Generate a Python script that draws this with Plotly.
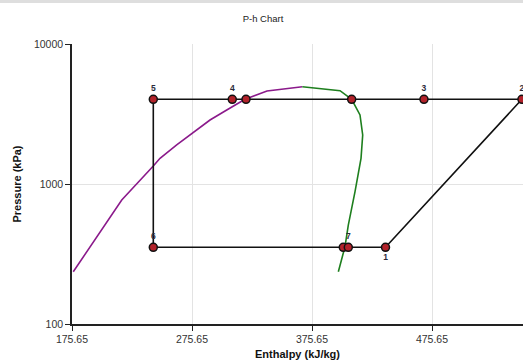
import plotly.graph_objects as go

# Saturated liquid line (purple)
liq_h = [176.7, 217.1, 243.4, 249.0, 262.9, 290.65, 304.6, 319.8, 338.15, 367.6]
liq_p = [236, 769, 1345, 1526, 1901, 2865, 3380, 4027, 4616, 4955]

# Saturated vapour line (green)
vap_h = [367.6, 399.0, 408.7, 415.65, 417.9, 416.5, 411.5, 405.9, 403.15, 397.6]
vap_p = [4955, 4637, 4027, 3112, 2239, 1526, 881, 509, 357, 236]

# Cycle state points
cyc_labels = ["1", "2", "3", "4", "5", "6", "7", "1"]
cyc_h = [436.9, 550.6, 468.95, 309.2, 243.4, 243.4, 405.9, 436.9]
cyc_p = [353, 4028, 4028, 4028, 4028, 353, 353, 353]
cyc_textpos = ["bottom center", "top center", "top center", "top center",
               "top center", "top center", "top center", "bottom center"]

# Extra saturation markers on the cycle lines
sat_h = [320.65, 408.7, 401.7]
sat_p = [4028, 4028, 353]

x_ticks = [175.65, 275.65, 375.65, 475.65]
x_tick_text = ["175.65", "275.65", "375.65", "475.65"]
y_ticks = [100, 1000, 10000]
y_tick_text = ["100", "1000", "10000"]

FONT = "Liberation Sans, Arial, sans-serif"
MARKER = dict(size=8, color="#B2222A", line=dict(color="#111111", width=1.5))

W, H = 523, 360

fig = go.Figure()
fig.add_trace(go.Scatter(x=liq_h, y=liq_p, mode="lines",
                         line=dict(color="#8B1A8B", width=1.6), showlegend=False))
fig.add_trace(go.Scatter(x=vap_h, y=vap_p, mode="lines",
                         line=dict(color="#1E7F1E", width=1.6), showlegend=False))
fig.add_trace(go.Scatter(x=cyc_h, y=cyc_p, mode="lines",
                         line=dict(color="#111111", width=1.6), showlegend=False))
fig.add_trace(go.Scatter(x=sat_h, y=sat_p, mode="markers", marker=MARKER,
                         showlegend=False))
fig.add_trace(go.Scatter(x=cyc_h[:-1], y=cyc_p[:-1], mode="markers+text",
                         text=cyc_labels[:-1], textposition=cyc_textpos[:-1],
                         textfont=dict(family=FONT, size=8.5, color="#2a2a3a",
                                       weight="bold"),
                         marker=MARKER, showlegend=False))

fig.update_layout(
    width=W, height=H,
    margin=dict(l=72, r=0, t=44, b=36),
    paper_bgcolor="white", plot_bgcolor="white",
    title=dict(text="P-h Chart", x=263 / W, xref="container",
               y=1 - 19 / H, yanchor="middle", xanchor="center",
               font=dict(family=FONT, size=9.5, color="#222222")),
    font=dict(family=FONT, color="#333333"),
)

fig.update_xaxes(
    range=[175.65, 175.65 + 451 / 1.2],
    tickvals=x_ticks, ticktext=x_tick_text,
    tickfont=dict(family=FONT, size=10.5, color="#333333"),
    ticks="outside", ticklen=5, tickcolor="#222222",
    showline=True, linecolor="#222222", linewidth=1.5,
    showgrid=True, gridcolor="#e3e3e3", gridwidth=1,
    zeroline=False, automargin=False,
    title=dict(text="Enthalpy (kJ/kg)", standoff=8,
               font=dict(family=FONT, size=11, color="#111111", weight="bold")),
)
fig.update_yaxes(
    type="log", range=[2, 4],
    tickvals=y_ticks, ticktext=y_tick_text,
    tickfont=dict(family=FONT, size=10.5, color="#333333"),
    ticks="outside", ticklen=5, tickcolor="#222222",
    showline=True, linecolor="#222222", linewidth=1.5,
    showgrid=True, gridcolor="#e3e3e3", gridwidth=1,
    zeroline=False, automargin=False,
    title=dict(text="Pressure (kPa)", standoff=10,
               font=dict(family=FONT, size=11, color="#111111", weight="bold")),
)

fig.add_shape(type="rect", xref="paper", yref="paper",
              x0=-72 / 451, x1=1, y0=1 + 41 / 280, y1=1 + 44 / 280,
              fillcolor="#dedede", line=dict(width=0), layer="below")

fig.write_html(
    "out.html",
    config={"displayModeBar": False},
    post_script="document.body.style.margin='0';document.body.style.overflow='hidden';",
)
